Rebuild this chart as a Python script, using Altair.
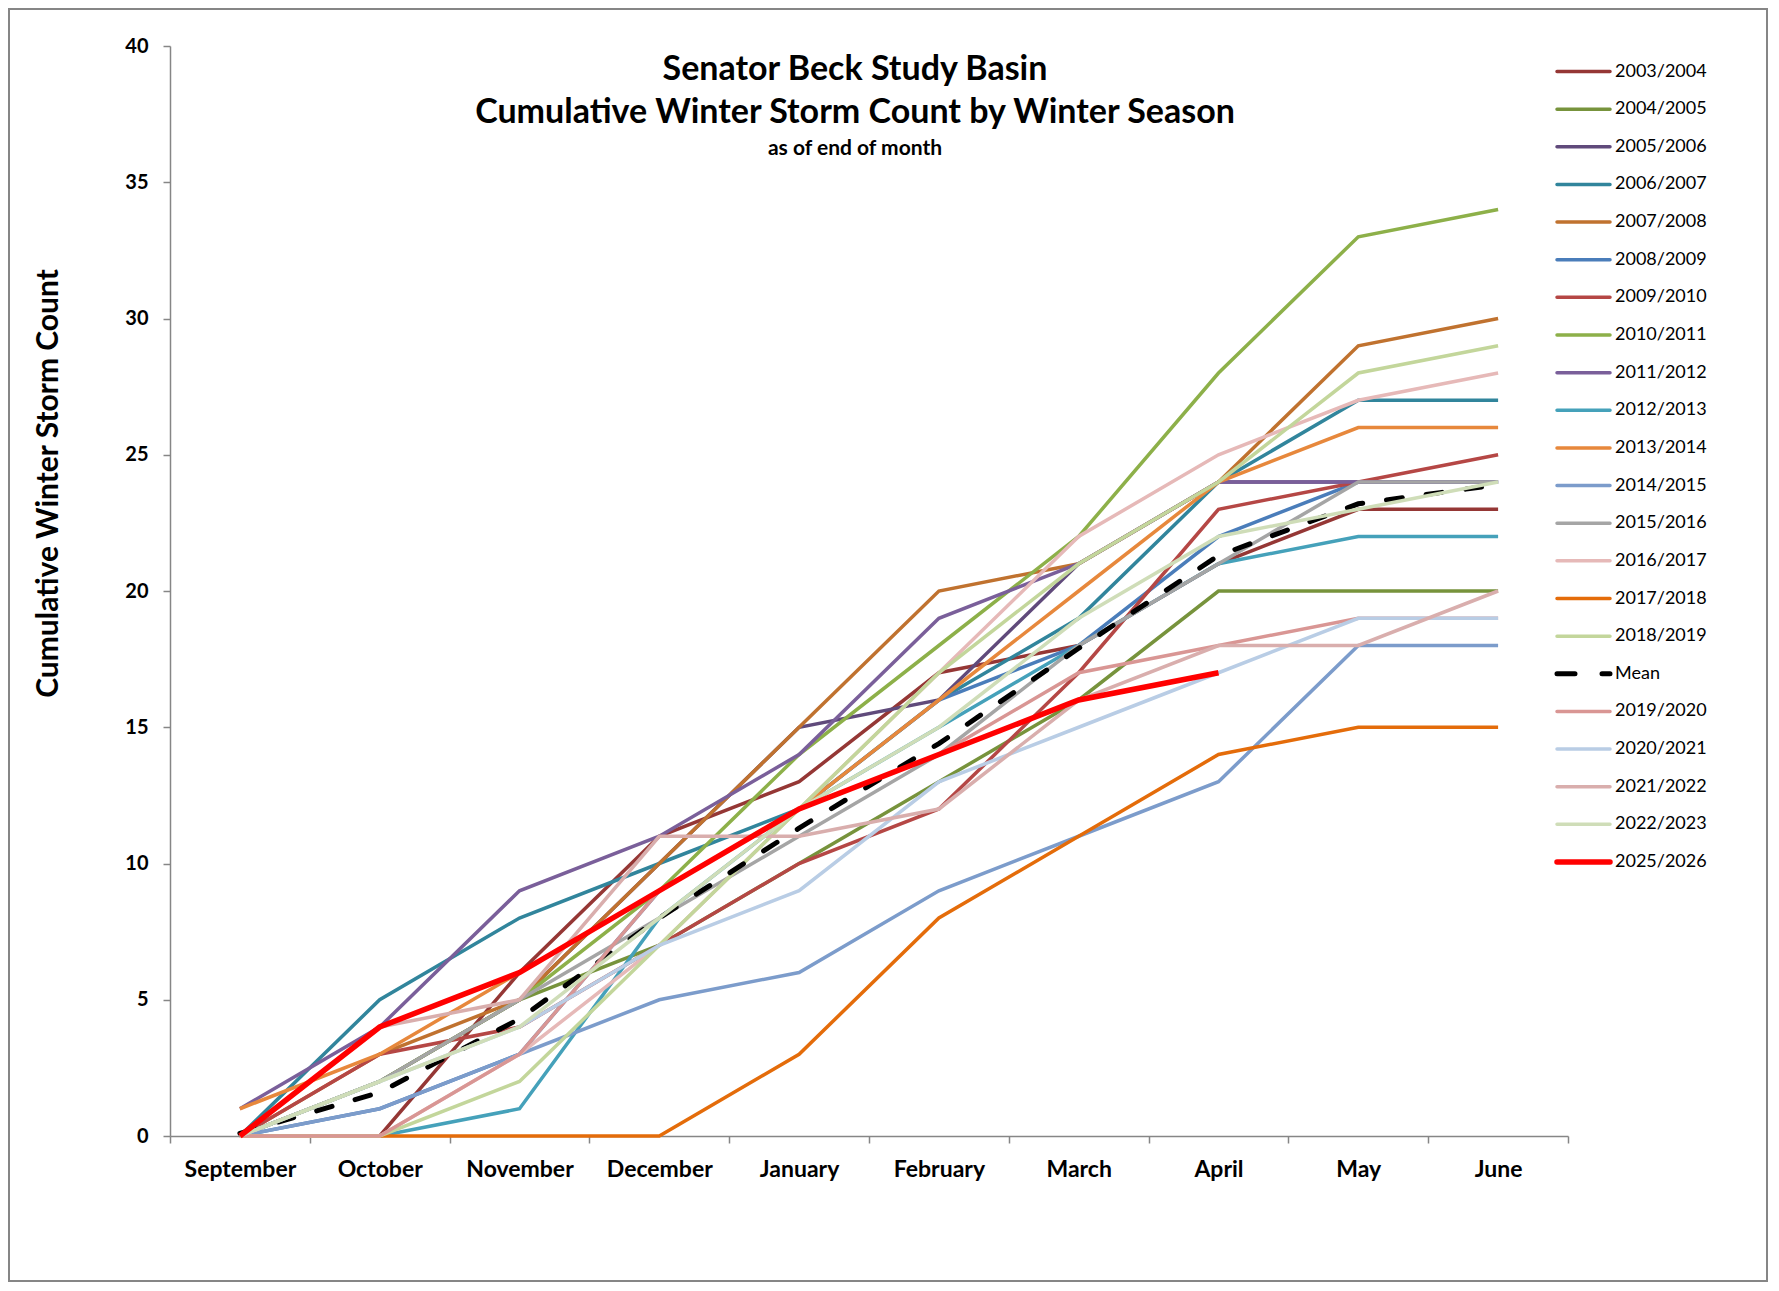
import altair as alt
import pandas as pd

months = ["September", "October", "November", "December", "January",
          "February", "March", "April", "May", "June"]

title_line1 = "Senator Beck Study Basin"
title_line2 = "Cumulative Winter Storm Count by Winter Season"
title_line3 = "as of end of month"
y_title = "Cumulative Winter Storm Count"

s2003_2004 = [0, 0, 6, 11, 13, 17, 18, 21, 23, 23]
s2004_2005 = [0, 2, 5, 7, 10, 13, 16, 20, 20, 20]
s2005_2006 = [0, 2, 5, 10, 15, 16, 21, 24, 24, 24]
s2006_2007 = [0, 5, 8, 10, 12, 16, 19, 24, 27, 27]
s2007_2008 = [0, 3, 5, 10, 15, 20, 21, 24, 29, 30]
s2008_2009 = [0, 1, 3, 9, 12, 16, 18, 22, 24, 24]
s2009_2010 = [0, 3, 4, 7, 10, 12, 17, 23, 24, 25]
s2010_2011 = [0, 2, 5, 9, 14, 18, 22, 28, 33, 34]
s2011_2012 = [1, 4, 9, 11, 14, 19, 21, 24, 24, 24]
s2012_2013 = [0, 0, 1, 8, 12, 15, 18, 21, 22, 22]
s2013_2014 = [1, 3, 6, 9, 12, 16, 20, 24, 26, 26]
s2014_2015 = [0, 1, 3, 5, 6, 9, 11, 13, 18, 18]
s2015_2016 = [0, 2, 5, 8, 11, 14, 18, 21, 24, 24]
s2016_2017 = [0, 0, 3, 7, 12, 17, 22, 25, 27, 28]
s2017_2018 = [0, 0, 0, 0, 3, 8, 11, 14, 15, 15]
s2018_2019 = [0, 0, 2, 7, 12, 17, 21, 24, 28, 29]
mean_vals = [0.1, 1.6, 4.3, 8.0, 11.3, 14.4, 17.9, 21.3, 23.2, 23.9]
s2019_2020 = [0, 0, 3, 9, 12, 14, 17, 18, 19, 19]
s2020_2021 = [0, 2, 4, 7, 9, 13, 15, 17, 19, 19]
s2021_2022 = [0, 4, 5, 11, 11, 12, 16, 18, 18, 20]
s2022_2023 = [0, 2, 4, 8, 12, 15, 19, 22, 23, 24]
s2025_2026 = [0, 4, 6, 9, 12, 14, 16, 17]

names = ["2003/2004", "2004/2005", "2005/2006", "2006/2007", "2007/2008",
         "2008/2009", "2009/2010", "2010/2011", "2011/2012", "2012/2013",
         "2013/2014", "2014/2015", "2015/2016", "2016/2017", "2017/2018",
         "2018/2019", "Mean", "2019/2020", "2020/2021", "2021/2022",
         "2022/2023", "2025/2026"]
series = [s2003_2004, s2004_2005, s2005_2006, s2006_2007, s2007_2008,
          s2008_2009, s2009_2010, s2010_2011, s2011_2012, s2012_2013,
          s2013_2014, s2014_2015, s2015_2016, s2016_2017, s2017_2018,
          s2018_2019, mean_vals, s2019_2020, s2020_2021, s2021_2022,
          s2022_2023, s2025_2026]
colors = ["#953735", "#77933C", "#604A7B", "#31859C", "#C0722F",
          "#4A7DBA", "#B54745", "#8DB049", "#7A5F9A", "#45A1BA",
          "#E7883C", "#7C9CCB", "#A5A5A5", "#E6B9B8", "#E46C0A",
          "#C3D69B", "#000000", "#D99694", "#B9CDE5", "#D9AEAD",
          "#CFDDB8", "#FF0000"]

rows = []
for k, (nm, vals) in enumerate(zip(names, series)):
    for i, v in enumerate(vals):
        rows.append({"season": nm, "month": months[i], "value": v, "k": k})
df = pd.DataFrame(rows)

color_scale = alt.Scale(domain=names, range=colors)
x_enc = alt.X("month:O", sort=months,
              scale=alt.Scale(type="band", paddingInner=0, paddingOuter=0),
              axis=alt.Axis(title=None, tickBand="extent", labelAngle=0,
                            labelPadding=15, labelFontSize=23))
y_enc = alt.Y("value:Q", scale=alt.Scale(domain=[0, 40], nice=False),
              axis=alt.Axis(values=list(range(0, 41, 5)), title=y_title,
                            titleFontSize=30, titleFont="Lato",
                            titleFontWeight="bold", titleX=-122, titleY=437,
                            titleBaseline="middle", titleColor="black",
                            labelPadding=15, labelFontSize=20))

base = alt.Chart(df)
enc = dict(x=x_enc, y=y_enc,
           color=alt.Color("season:N", scale=color_scale, legend=None))

idx_mean = names.index("Mean")
lines_a = base.transform_filter(alt.datum.k < idx_mean).mark_line(
    strokeWidth=3.5).encode(**enc)
lines_mean = base.transform_filter(alt.datum.k == idx_mean).mark_line(
    strokeWidth=5, strokeDash=[16, 24], strokeCap="round").encode(**enc)
lines_b = base.transform_filter(
    (alt.datum.k > idx_mean) & (alt.datum.k < len(names) - 1)).mark_line(
    strokeWidth=3.5).encode(**enc)
lines_now = base.transform_filter(alt.datum.k == len(names) - 1).mark_line(
    strokeWidth=5.5).encode(**enc)
lines = alt.layer(lines_a, lines_mean, lines_b, lines_now)

# legend built from the same names/colours
leg = pd.DataFrame({
    "name": names,
    "w": [5.5 if n == "2025/2026" else (5 if n == "Mean" else 3.5) for n in names],
    "dash": ["dash" if n == "Mean" else "solid" for n in names],
})
leg_y = alt.Y("name:N", sort=names, axis=None,
              scale=alt.Scale(type="point", padding=0, range=[25.5, 816]))
leg_rules = alt.Chart(leg).mark_rule(strokeCap="round").encode(
    y=leg_y, x=alt.value(1387), x2=alt.value(1440),
    color=alt.Color("name:N", scale=color_scale, legend=None),
    size=alt.Size("w:Q", scale=None, legend=None),
    strokeDash=alt.StrokeDash("dash:N", scale=alt.Scale(
        domain=["solid", "dash"], range=[[1, 0], [18, 27]]), legend=None),
)
leg_text = alt.Chart(leg).mark_text(
    align="left", baseline="middle", fontSize=18, font="Lato",
    color="black").encode(y=leg_y, x=alt.value(1445), text="name:N")
legend = alt.layer(leg_rules, leg_text)

tdf = pd.DataFrame({"t1": [title_line1], "t2": [title_line2], "t3": [title_line3]})
t1 = alt.Chart(tdf).mark_text(fontSize=34, font="Lato", fontWeight="bold",
                              color="black", baseline="middle", align="center"
                              ).encode(text="t1:N", x=alt.value(685), y=alt.value(24))
t2 = alt.Chart(tdf).mark_text(fontSize=34, font="Lato", fontWeight="bold",
                              color="black", baseline="middle", align="center"
                              ).encode(text="t2:N", x=alt.value(685), y=alt.value(67))
t3 = alt.Chart(tdf).mark_text(fontSize=21, font="Lato", fontWeight="bold",
                              color="black", baseline="middle", align="center"
                              ).encode(text="t3:N", x=alt.value(685), y=alt.value(103))

frame = alt.Chart(tdf).mark_rect(fillOpacity=0, stroke="#868686",
                                 strokeWidth=2).encode(
    x=alt.value(-161), x2=alt.value(1597), y=alt.value(-37), y2=alt.value(1235))

chart = alt.layer(
    frame, lines, legend, t1, t2, t3
).resolve_scale(y="independent").properties(
    width=1398, height=1090,
    padding={"left": 162, "top": 38, "right": 200, "bottom": 146},
    autosize=alt.AutoSizeParams(type="none"),
    background="white",
).configure_view(stroke=None).configure_axis(
    domainColor="#868686", tickColor="#868686", domainWidth=1.5,
    tickWidth=1.5, tickSize=7, labelFont="Lato", labelFontWeight="bold",
    labelFontSize=20, labelColor="black", grid=False,
)

chart.save("out.html", embed_options={"renderer": "svg", "actions": False})
